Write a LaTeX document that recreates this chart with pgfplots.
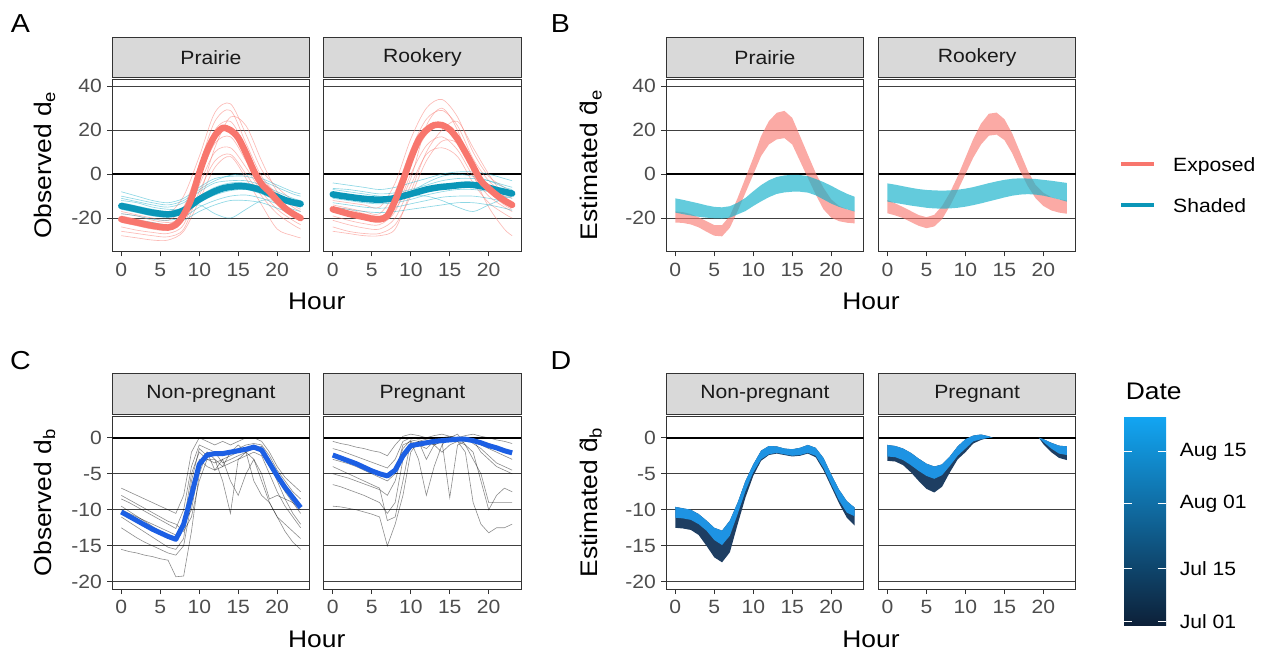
\documentclass[border=0pt]{standalone}
\usepackage{pgfplots}
\pgfplotsset{compat=1.18}
\usepackage{pgfplotstable}
\usepackage{fontspec}
\setmainfont{Liberation Sans}[FakeStretch=1.1]

\definecolor{expo}{HTML}{F8766D}
\definecolor{shad}{HTML}{0A96B8}
\definecolor{shadthin}{HTML}{1DB0CA}
\definecolor{bandblue}{HTML}{19B2CB}
\definecolor{grey10}{HTML}{1A1A1A}
\definecolor{grey20}{HTML}{333333}
\definecolor{grey30}{HTML}{4D4D4D}
\definecolor{stripfill}{HTML}{D9D9D9}
\definecolor{obsblue}{HTML}{1C5FE4}
\definecolor{dlight}{HTML}{1E93E3}
\definecolor{ddark}{HTML}{1E3E62}
\definecolor{cbtop}{HTML}{12A5F2}
\definecolor{cbmid}{HTML}{1A64A3}
\definecolor{cbbot}{HTML}{0D2038}

\newcommand{\fsmall}{\fontsize{19.2bp}{23bp}\selectfont}
\newcommand{\fbase}{\fontsize{24bp}{29bp}\selectfont}
\newcommand{\fpanel}{\fontsize{26bp}{31bp}\selectfont}

\pgfplotsset{
  facet/.style={scale only axis, width=197.3bp, height=172.5bp,
    xmin=-1.15, xmax=24.15, anchor=south west,
    axis line style={draw=grey20, line width=0.9bp},
    xtick={0,5,10,15,20}, xticklabels={0,5,10,15,20},
    tick pos=left, tick align=outside, major tick length=5bp,
    tick style={draw=grey20, line width=0.9bp},
    ticklabel style={font=\fsmall, text=grey30},
    xticklabel style={yshift=-3bp}, yticklabel style={xshift=-2bp},
    ymajorgrids, major grid style={draw=black!75, line width=0.8bp},
    no marks},
  rangeAB/.style={ymin=-35.2, ymax=43.3, ytick={-20,0,20,40}, yticklabels={-20,0,20,40}},
  rangeCD/.style={ymin=-21, ymax=2.95, ytick={-20,-15,-10,-5,0}, yticklabels={-20,-15,-10,-5,0}},
  noy/.style={ytick style={draw=none}, yticklabel=\empty},
  thinred/.style={expo, opacity=0.5, line width=0.65bp, smooth},
  thinblue/.style={shadthin, opacity=0.5, line width=0.65bp, smooth},
  meanred/.style={expo, line width=6.5bp, smooth, line cap=round},
  meanblue/.style={shad, line width=6.5bp, smooth, line cap=round},
  thinblack/.style={black, opacity=0.45, line width=0.6bp},
  meanobs/.style={obsblue, line width=5bp, line join=round},
  bandred/.style={draw=none, fill=expo, fill opacity=0.62},
  bandblu/.style={draw=none, fill=bandblue, fill opacity=0.68},
}
\newcommand{\zeroline}{\draw[black, line width=2bp] (axis cs:-1.15,0) -- (axis cs:24.15,0);}

% ---- panel A: hourly means ----
\pgfplotstableread{
h r b
0 -20.5 -14.5
1 -21.3 -15.2
2 -22 -16
3 -22.8 -16.8
4 -23.5 -17.5
5 -24 -18
6 -24.3 -18.3
7 -23 -17.8
8 -18.5 -16.5
9 -11 -14
10 0.5 -11.5
11 10.5 -9.5
12 17.5 -7.8
13 21 -6.5
14 20 -5.8
15 16.5 -5.5
16 9.5 -5.6
17 1.5 -6.3
18 -4.5 -7.3
19 -8 -8.8
20 -12 -10.3
21 -15.5 -11.8
22 -18 -12.8
23 -20 -13.5
}\APm
\pgfplotstableread{
h r b
0 -16 -9.2
1 -17 -9.8
2 -18 -10.3
3 -18.8 -10.8
4 -19.5 -11.2
5 -20.3 -11.5
6 -20.6 -11.6
7 -19 -11.4
8 -12 -10.9
9 -3 -10
10 7 -9
11 15.5 -8
12 20 -7
13 22.3 -6.3
14 22.3 -5.8
15 20.3 -5.5
16 16 -5.1
17 10 -4.8
18 3.5 -4.9
19 -3 -5.5
20 -6.5 -6.2
21 -9.5 -7.2
22 -12 -8
23 -14 -8.8
}\ARm
% ---- panel A: individual days (every 2 h) ----
\pgfplotstableread{
h l1 l2 l3 l4 l5 l6 l7 l8
0 -14 -17 -19 -22 -24 -26 -18 -28
2 -15 -18.5 -20.5 -23.5 -25.5 -27 -19 -29
4 -17 -20 -22 -25 -26.5 -28 -21 -30
6 -18 -21 -23 -25.5 -27 -28.5 -22 -30
8 -10 -15 -17 -21 -23 -25 -20 -26
10 8 4 2 -2 -5 -8 -10 -12
12 28 24 20 14 10 6 12 3
14 32 29 24 17 12 9 26 8
16 18 14 12 6 3 0 22 -2
18 2 -1 -3 -6 -8 -10 6 -14
20 -6 -9 -11 -14 -16 -18 -8 -25
22 -12 -15 -17 -19 -21 -23 -14 -28
23 -14 -17 -19 -21 -23 -25 -16 -29
}\APr
\pgfplotstableread{
h l1 l2 l3 l4 l5 l6 l7 l8
0 -8 -11 -13 -16 -18 -20 -12 -10
2 -10 -12.5 -14.5 -17.5 -19 -21 -13 -11.5
4 -12 -14 -16 -19 -20.5 -22 -15 -13
6 -13 -15 -17 -19.5 -21 -23 -16 -14
8 -11 -13 -15 -18 -19.5 -21 -16 -12
10 -6 -8 -10 -13 -15 -17 -14 -7
12 -2 -4 -6 -9.5 -12 -14 -18 -3
14 -1 -3 -4 -7.5 -10 -12 -20 -0.5
16 -1 -3 -4 -7 -9.5 -12 -16 0
18 -3 -5 -6 -9 -11 -13 -12 -2
20 -6 -8 -9 -12 -13.5 -15.5 -12 -5
22 -9 -11 -12 -14 -16 -18 -14 -8
23 -10 -12 -12.5 -15 -17 -19 -15 -9
}\APb
\pgfplotstableread{
h l1 l2 l3 l4 l5 l6 l7 l8
0 -12 -14 -17 -19 -21 -24 -15 -26
2 -13 -15.5 -19 -21 -23 -26 -16 -27
4 -14 -17 -20.5 -22.5 -24.5 -27 -18 -28
6 -15 -18 -21 -23 -25 -27 -19 -28
8 -4 -8 -13 -17 -20 -23 -16 -25
10 16 11 5 0 -5 -10 -2 -8
12 30 25 18 13 9 6 22 10
14 34 29 22 17 12 15 30 20
16 26 22 17 11 8 14 20 24
18 10 7 4 -1 -4 2 0 12
20 -1 -3 -6 -10 -13 -8 -15 0
22 -6 -9 -12 -15 -18 -14 -25 -10
23 -8 -11 -14 -17 -20 -16 -28 -13
}\ARr
\pgfplotstableread{
h l1 l2 l3 l4 l5 l6 l7 l8
0 -4 -6.5 -8.5 -11 -13 -15 -10 -7
2 -5 -7 -9.5 -12 -14 -16 -11 -8
4 -6 -8 -10.5 -13 -15 -17 -12 -9
6 -7 -9 -11 -13.5 -15.5 -17.5 -12 -10
8 -6 -8.5 -10.5 -13 -15 -17 -11 -10
10 -4 -7 -9 -11.5 -13.5 -16 -10 -8
12 -2 -5 -7 -9.5 -12 -15 -10 -4
14 0 -3 -5 -8 -10.5 -14 -12 -1
16 1 -2 -4 -7 -10 -13 -15 0
18 1 -2 -4 -7 -10 -13 -17 -1
20 0 -3 -5 -8 -11 -14 -14 -3
22 -2 -5 -7 -10 -12.5 -15.5 -11 -6
23 -3 -6 -8 -11 -13.5 -16.5 -10 -7
}\ARb
% ---- panel C: individual days and mean ----
\pgfplotstableread{
h l1 l2 l3 l4 l5 l6 l7 l8 m
0 -7 -8.5 -9.5 -11 -12.5 -15.5 -10 -8 -10.3
1 -7.5 -9 -10.2 -11.7 -13.2 -15.8 -10.5 -8.6 -10.9
2 -8 -9.6 -10.9 -12.4 -13.9 -16 -11 -9.2 -11.5
3 -8.5 -10.2 -11.6 -13.1 -14.5 -16.3 -11.5 -9.8 -12.1
4 -9 -10.8 -12.3 -13.8 -15 -16.5 -12 -10.4 -12.7
5 -9.5 -11.4 -13 -14.5 -15.5 -16.8 -12.5 -11 -13.2
6 -10 -12 -13.7 -15.2 -16 -17 -13 -11.6 -13.7
7 -10.5 -12.6 -14.3 -15.5 -16.3 -19.3 -13.5 -12 -14.1
8 -8 -10 -12 -14 -15 -19.2 -12 -13 -12
9 -2 -4 -5 -6 -9 -13 -10 -11 -8
10 0 -1 -2 -1.5 -3 -5 -4 -6 -3.7
11 -0.5 -1.5 -3 -2.5 -4 -2 -2 -3 -2.4
12 -1 -2 -3.5 -2 -4.5 -4.5 -3 -3 -2.2
13 -0.5 -2.5 -3 -3.5 -4 -3 -6 -4 -2.2
14 -1 -2 -2.5 -3 -3.5 -6 -10.5 -2 -2
15 -0.5 -1.5 -2 -2.5 -3 -8 -3 -1 -1.8
16 0 -1 -1.5 -2 -2.5 -5 -2 -2 -1.6
17 0 -0.8 -1 -1.5 -2 -3 -6 -3 -1.3
18 -0.5 -1 -1.5 -1.2 -2.5 -6 -8 -5 -1.7
19 -2 -2.5 -3 -3.5 -5 -9 -9 -8.5 -3.5
20 -4 -4.5 -5.5 -6 -7.5 -11 -11 -8 -5.3
21 -5.5 -6 -7.5 -8.5 -9.5 -12 -13 -8.5 -6.9
22 -6.5 -7.5 -9 -10.5 -11 -13 -14.5 -9 -8.3
23 -7.5 -8.5 -10.5 -12 -12.5 -14 -15.5 -10 -9.7
}\CN
\pgfplotstableread{
h l1 l2 l3 l4 l5 l6 l7 l8 m
0 -0.5 -1.5 -2.5 -3 -5 -6.5 -9.5 -4 -2.4
1 -0.8 -1.8 -2.9 -3.3 -5.3 -6.8 -9.6 -4.5 -2.8
2 -1 -2.2 -3.3 -3.6 -5.6 -7.2 -9.8 -5 -3.2
3 -1.3 -2.6 -3.7 -4 -6 -7.6 -10 -5.5 -3.6
4 -1.5 -3 -4.1 -4.5 -6.4 -8 -10.3 -6 -4.1
5 -1.8 -3.4 -4.5 -5 -6.8 -8.5 -10.6 -6.5 -4.6
6 -2 -3.8 -4.9 -5.5 -7.2 -9 -11 -7 -5
7 -2.5 -4.2 -5.3 -6 -8 -10.5 -15 -11.5 -5.3
8 -1 -3 -4.5 -5 -6 -9 -12 -11 -4.5
9 0.2 -0.5 -1.5 -1 -2 -3 -8 -6 -2.5
10 0.5 0 -0.3 -0.5 -1 -1.5 -2 -0.5 -1.1
11 0.3 -0.2 -0.5 -1 -0.5 -1 -0.5 -3 -0.9
12 0 0 -0.2 -1.5 -3 -0.5 -0.5 -8 -0.7
13 0.3 -0.3 0 -0.5 -1 -1 -1 -4 -0.5
14 0.5 0 -0.5 -0.2 -0.5 -2 -0.5 -1 -0.4
15 0.2 0.2 -0.3 -0.5 -8.3 -1 -0.2 0 -0.3
16 0 0 0 -0.2 -1 -0.5 -0.5 0.5 -0.2
17 0.3 -0.2 -0.2 0 -0.5 -1 -2 -1 -0.2
18 0.5 0 -0.5 -0.8 -0.3 -3 -9 -2 -0.4
19 0.2 -0.5 -1 -1.5 -2 -5 -12 -6 -0.7
20 0 -0.8 -1.5 -2.5 -3 -9 -13.2 -10 -1.1
21 -0.3 -1.2 -2 -3.5 -4 -9 -12.5 -8 -1.4
22 -0.5 -1.5 -2.5 -4 -4.5 -9 -12.5 -7 -1.8
23 -0.8 -2 -3 -4.5 -5 -9 -12 -7.5 -2.1
}\CP

\newcommand{\strip}[4]{%
  \draw[grey20, line width=0.9bp, fill=stripfill] (#1bp,#3bp) rectangle (#2bp,{#3bp+40.5bp});
  \node[font=\fsmall, text=grey10] at ({(#1bp+#2bp)/2},{#3bp+20.25bp}) {#4};}

\begin{document}
\begin{tikzpicture}
\useasboundingbox (0,0) rectangle (1264bp,655bp);

% ===== A =====
\begin{axis}[facet, rangeAB, at={(112.3bp,403.5bp)}]
\zeroline
\pgfplotsinvokeforeach{1,...,8}{\addplot[thinred] table[x=h,y=l#1]{\APr};}
\pgfplotsinvokeforeach{1,...,8}{\addplot[thinblue] table[x=h,y=l#1]{\APb};}
\addplot[meanblue] table[x=h,y=b]{\APm};
\addplot[meanred] table[x=h,y=r]{\APm};
\end{axis}
\begin{axis}[facet, rangeAB, noy, at={(323.8bp,403.5bp)}]
\zeroline
\pgfplotsinvokeforeach{1,...,8}{\addplot[thinred] table[x=h,y=l#1]{\ARr};}
\pgfplotsinvokeforeach{1,...,8}{\addplot[thinblue] table[x=h,y=l#1]{\ARb};}
\addplot[meanblue] table[x=h,y=b]{\ARm};
\addplot[meanred] table[x=h,y=r]{\ARm};
\end{axis}

% ===== B: bands, upper edge forward then lower edge back =====
\begin{axis}[facet, rangeAB, at={(666.3bp,403.5bp)}]
\zeroline
\addplot[bandred] coordinates {(0,-17)(1,-17.3)(2,-18.2)(3,-19.6)(4,-21.4)(5,-23.2)(6,-23.2)(7,-19)(8,-10.8)(9,-1.7)(10,7.4)(11,17.3)(12,24.1)(13,27.9)(14,28.8)(15,25.6)(16,17.3)(17,8.9)(18,0.6)(19,-6.2)(20,-11.5)(21,-14.5)(22,-16)(23,-16.8)
 (23,-22.4)(22,-22.1)(21,-21.4)(20,-19.8)(19,-16)(18,-9.2)(17,-1.7)(16,5.9)(15,13.5)(14,16.4)(13,15.8)(12,13.5)(11,8.2)(10,-0.2)(9,-8.5)(8,-16.8)(7,-24.4)(6,-28.3)(5,-28)(4,-26.2)(3,-24.2)(2,-22.9)(1,-22.2)(0,-22)};
\addplot[bandblu] coordinates {(0,-11)(1,-11.7)(2,-12.5)(3,-13.3)(4,-14.2)(5,-14.9)(6,-15.1)(7,-14.6)(8,-13)(9,-10.8)(10,-7.8)(11,-5)(12,-2.8)(13,-1.3)(14,-0.6)(15,-0.3)(16,-0.4)(17,-0.9)(18,-2.2)(19,-3.6)(20,-5.3)(21,-7.2)(22,-8.9)(23,-10.3)
 (23,-17)(22,-16)(21,-14.9)(20,-13.4)(19,-11.5)(18,-9.6)(17,-8.4)(16,-8)(15,-8)(14,-8.3)(13,-9)(12,-10.5)(11,-12.4)(10,-14.5)(9,-16.8)(8,-18.3)(7,-19.8)(6,-20.2)(5,-20.1)(4,-19.8)(3,-19.4)(2,-18.8)(1,-18.2)(0,-17.5)};
\end{axis}
\begin{axis}[facet, rangeAB, noy, at={(878.5bp,403.5bp)}]
\zeroline
\addplot[bandred] coordinates {(0,-11.8)(1,-13.3)(2,-15)(3,-16.8)(4,-18.6)(5,-19.6)(6,-18.5)(7,-14.5)(8,-8.5)(9,-1)(10,7.5)(11,16)(12,23)(13,27.5)(14,28)(15,25)(16,18.5)(17,10)(18,1.5)(19,-5)(20,-8.5)(21,-10.5)(22,-11.5)(23,-12)
 (23,-18)(22,-17.5)(21,-16.5)(20,-14.5)(19,-11)(18,-5.5)(17,1.5)(16,9.5)(15,15.5)(14,18)(13,17.5)(12,13.5)(11,7.5)(10,0)(9,-7.5)(8,-14.5)(7,-20.5)(6,-23.8)(5,-24.6)(4,-23.5)(3,-21.8)(2,-20)(1,-18.8)(0,-17.8)};
\addplot[bandblu] coordinates {(0,-4.2)(1,-4.8)(2,-5.5)(3,-6.2)(4,-6.8)(5,-7.2)(6,-7.4)(7,-7.5)(8,-7.4)(9,-7.1)(10,-6.6)(11,-5.9)(12,-5)(13,-4.1)(14,-3.3)(15,-2.6)(16,-2.1)(17,-1.9)(18,-2)(19,-2.2)(20,-2.6)(21,-3)(22,-3.5)(23,-4)
 (23,-12.5)(22,-11.5)(21,-10.6)(20,-9.8)(19,-9.3)(18,-9.1)(17,-9.3)(16,-9.8)(15,-10.6)(14,-11.5)(13,-12.4)(12,-13.3)(11,-14.1)(10,-14.8)(9,-15.3)(8,-15.6)(7,-15.7)(6,-15.6)(5,-15.3)(4,-14.8)(3,-14.3)(2,-13.7)(1,-13.1)(0,-12.5)};
\end{axis}

% ===== C =====
\begin{axis}[facet, rangeCD, at={(112.3bp,66bp)}]
\zeroline
\pgfplotsinvokeforeach{1,...,8}{\addplot[thinblack] table[x=h,y=l#1]{\CN};}
\addplot[meanobs] table[x=h,y=m]{\CN};
\end{axis}
\begin{axis}[facet, rangeCD, noy, at={(323.8bp,66bp)}]
\zeroline
\pgfplotsinvokeforeach{1,...,8}{\addplot[thinblack] table[x=h,y=l#1]{\CP};}
\addplot[meanobs] table[x=h,y=m]{\CP};
\end{axis}

% ===== D: ribbon (dark: top..bottom, light: top..boundary) =====
\begin{axis}[facet, rangeCD, at={(666.3bp,66bp)}]
\zeroline
\addplot[draw=none, fill=ddark] coordinates {(0,-9.6)(1,-9.8)(2,-10)(3,-10.6)(4,-11.5)(5,-12.5)(6,-12.9)(7,-11.5)(8,-9)(9,-6)(10,-3.7)(11,-1.8)(12,-1.15)(13,-1.2)(14,-1.5)(15,-1.6)(16,-1.4)(17,-1)(18,-1.4)(19,-2.8)(20,-5.1)(21,-7.2)(22,-8.8)(23,-9.7)
 (23,-12.2)(22,-11.1)(21,-9.1)(20,-6.8)(19,-4.5)(18,-2.7)(17,-2.2)(16,-2.5)(15,-2.6)(14,-2.4)(13,-2.2)(12,-2.4)(11,-3.2)(10,-5.3)(9,-8.3)(8,-12)(7,-15.9)(6,-17.3)(5,-16.6)(4,-15)(3,-13.5)(2,-12.8)(1,-12.6)(0,-12.5)};
\addplot[draw=none, fill=dlight] coordinates {(0,-9.6)(1,-9.8)(2,-10)(3,-10.6)(4,-11.5)(5,-12.5)(6,-12.9)(7,-11.5)(8,-9)(9,-6)(10,-3.7)(11,-1.8)(12,-1.15)(13,-1.2)(14,-1.5)(15,-1.6)(16,-1.4)(17,-1)(18,-1.4)(19,-2.8)(20,-5.1)(21,-7.2)(22,-8.8)(23,-9.7)
 (23,-10.9)(22,-10.4)(21,-8.7)(20,-6.5)(19,-4.2)(18,-2.5)(17,-2.1)(16,-2.4)(15,-2.5)(14,-2.3)(13,-2.1)(12,-2.3)(11,-3)(10,-4.8)(9,-7.4)(8,-10.6)(7,-13.6)(6,-14.9)(5,-14.2)(4,-12.9)(3,-12)(2,-11.4)(1,-11.2)(0,-11.1)};
\end{axis}
\begin{axis}[facet, rangeCD, noy, at={(878.5bp,66bp)}]
\zeroline
\addplot[draw=none, fill=ddark] coordinates {(0,-1)(1,-1.15)(2,-1.5)(3,-2.1)(4,-2.9)(5,-3.6)(6,-4)(7,-3.7)(8,-2.6)(9,-1.2)(10,-0.2)(11,0.3)(12,0.45)(13,0.2)(13.5,0)
 (13,0)(12,-0.3)(11,-0.8)(10,-2)(9,-3)(8,-4.8)(7,-6.8)(6,-7.6)(5,-7.1)(4,-6)(3,-4.8)(2,-3.8)(1,-3.3)(0,-3.2)};
\addplot[draw=none, fill=dlight] coordinates {(0,-1)(1,-1.15)(2,-1.5)(3,-2.1)(4,-2.9)(5,-3.6)(6,-4)(7,-3.7)(8,-2.6)(9,-1.2)(10,-0.2)(11,0.3)(12,0.45)(13,0.2)(13.5,0)
 (13,0)(12,-0.2)(11,-0.5)(10,-1.5)(9,-2.5)(8,-3.9)(7,-5.2)(6,-5.7)(5,-5.3)(4,-4.6)(3,-3.8)(2,-3.1)(1,-2.7)(0,-2.6)};
\addplot[draw=none, fill=ddark] coordinates {(19.4,0)(20,-0.2)(21,-0.7)(22,-1.1)(23,-1.2)(23,-3.1)(22,-2.8)(21,-2)(20,-0.9)};
\addplot[draw=none, fill=dlight] coordinates {(19.4,0)(20,-0.2)(21,-0.7)(22,-1.1)(23,-1.2)(23,-2.4)(22,-2.2)(21,-1.5)(20,-0.6)};
\end{axis}

% ===== strips =====
\strip{112.3}{309.6}{577.5}{Prairie}
\strip{323.8}{521.1}{577.5}{Rookery}
\strip{666.3}{863.6}{577.5}{Prairie}
\strip{878.5}{1075.8}{577.5}{Rookery}
\strip{112.3}{309.6}{241}{Non-pregnant}
\strip{323.8}{521.1}{241}{Pregnant}
\strip{666.3}{863.6}{241}{Non-pregnant}
\strip{878.5}{1075.8}{241}{Pregnant}

% ===== axis titles =====
\node[rotate=90, font=\fbase] at (44.6bp,490bp) {Observed d\textsubscript{e}};
\node[rotate=90, font=\fbase] at (591bp,490bp) {Estimated \^{d}\textsubscript{e}};
\node[rotate=90, font=\fbase] at (44.6bp,152.5bp) {Observed d\textsubscript{b}};
\node[rotate=90, font=\fbase] at (591bp,152.5bp) {Estimated \^{d}\textsubscript{b}};
\node[font=\fbase, anchor=base, inner sep=0] at (316.7bp,345bp) {Hour};
\node[font=\fbase, anchor=base, inner sep=0] at (871bp,345bp) {Hour};
\node[font=\fbase, anchor=base, inner sep=0] at (316.7bp,7.5bp) {Hour};
\node[font=\fbase, anchor=base, inner sep=0] at (871bp,7.5bp) {Hour};

% ===== panel letters =====
\node[font=\fpanel, inner sep=0] at (20.5bp,631.3bp) {A};
\node[font=\fpanel, inner sep=0] at (560.5bp,631.3bp) {B};
\node[font=\fpanel, inner sep=0] at (20.5bp,294.2bp) {C};
\node[font=\fpanel, inner sep=0] at (561bp,294.2bp) {D};

% ===== legend for B =====
\draw[expo, line width=3.5bp] (1121bp,491bp) -- (1154bp,491bp);
\draw[shad, line width=3.5bp] (1121bp,450bp) -- (1154bp,450bp);
\node[font=\fsmall, anchor=base west, inner sep=0] at (1173bp,483.8bp) {Exposed};
\node[font=\fsmall, anchor=base west, inner sep=0] at (1173bp,442.5bp) {Shaded};

% ===== colour bar for D =====
\node[font=\fbase, anchor=base west, inner sep=0] at (1125.7bp,255bp) {Date};
\shade[bottom color=cbbot, middle color=cbmid, top color=cbtop] (1124bp,29.1bp) rectangle (1166bp,237.6bp);
\foreach \yy in {203.4bp,151.3bp,86.2bp,33.1bp} {
  \draw[white, line width=0.8bp] (1124bp,\yy) -- (1132.4bp,\yy);
  \draw[white, line width=0.8bp] (1157.6bp,\yy) -- (1166bp,\yy);
}
\node[font=\fsmall, anchor=west, inner sep=0] at (1179.6bp,203.4bp) {Aug 15};
\node[font=\fsmall, anchor=west, inner sep=0] at (1179.6bp,151.3bp) {Aug 01};
\node[font=\fsmall, anchor=west, inner sep=0] at (1179.6bp,86.2bp) {Jul 15};
\node[font=\fsmall, anchor=west, inner sep=0] at (1179.6bp,33.1bp) {Jul 01};
\end{tikzpicture}
\end{document}
